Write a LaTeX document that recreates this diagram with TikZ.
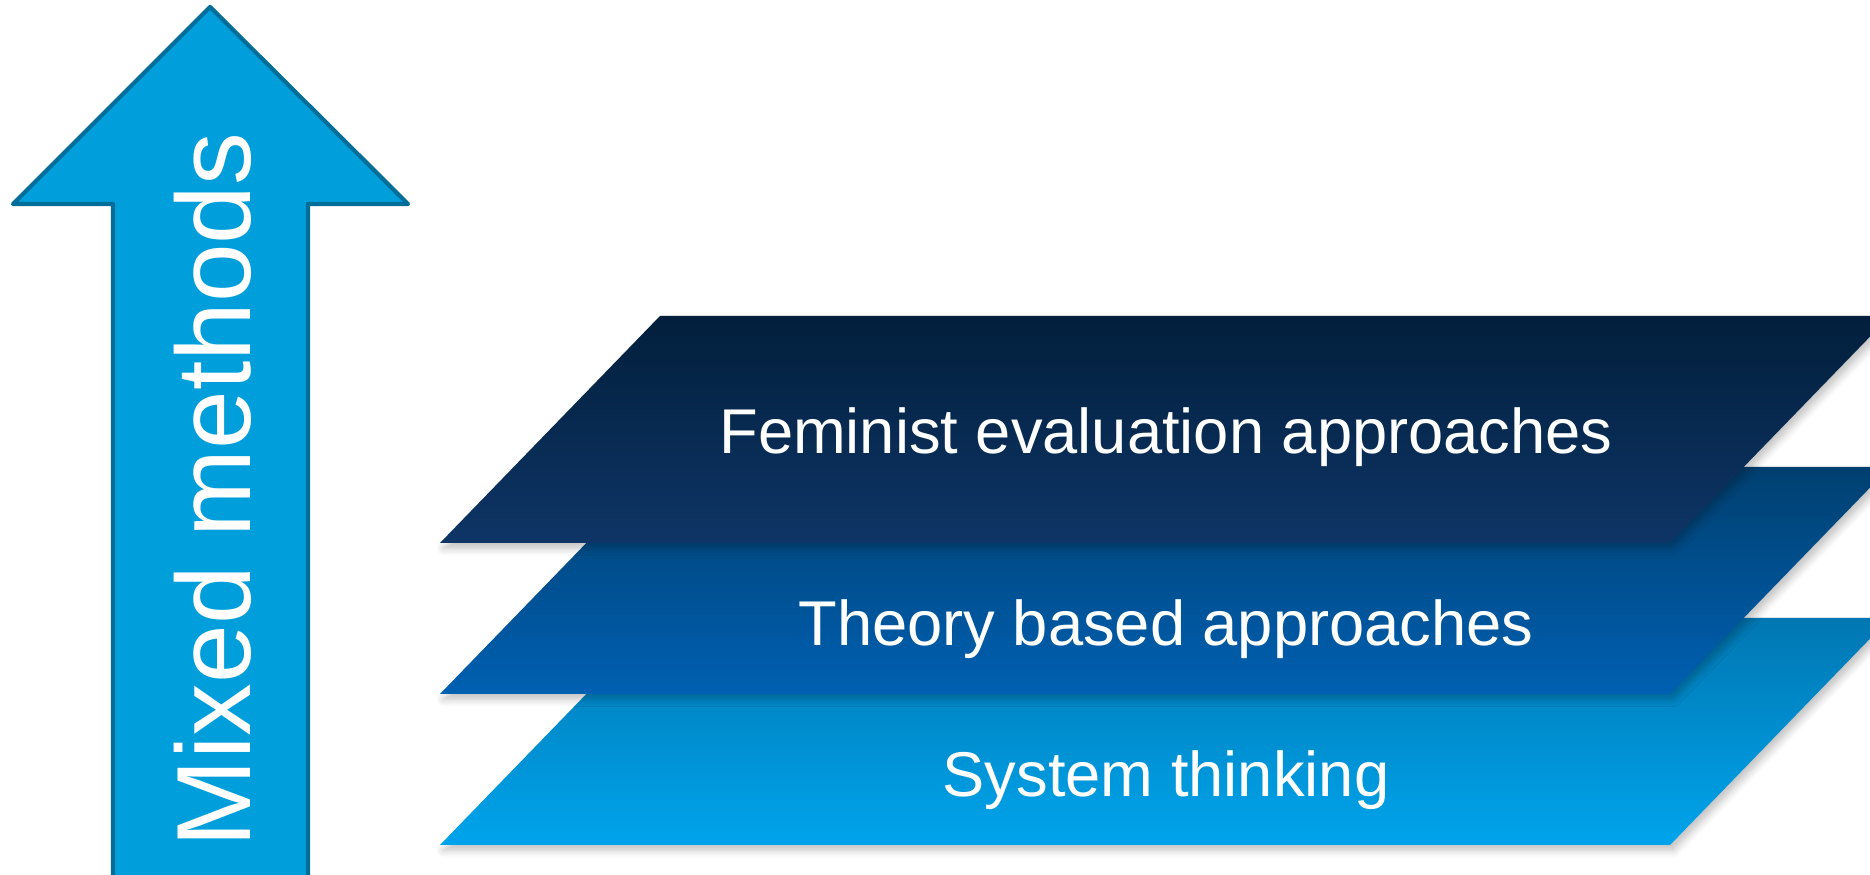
\documentclass[tikz,border=0pt]{standalone}
\usepackage{fontspec}
\setmainfont{Liberation Sans}
\usepackage{tikz}
\usetikzlibrary{shadows.blur}
\usepackage{xcolor}
\definecolor{arrowblue}{RGB}{0, 159, 219}
\definecolor{arrowedge}{RGB}{0, 110, 153}
\definecolor{navytop}{RGB}{2, 31, 60}
\definecolor{navybottom}{RGB}{14, 53, 102}
\definecolor{midtop}{RGB}{0, 64, 112}
\definecolor{midbottom}{RGB}{0, 96, 178}
\definecolor{lighttop}{RGB}{0, 119, 178}
\definecolor{lightbottom}{RGB}{0, 164, 236}

\tikzset{
	layer/.style={blur shadow={shadow xshift=1pt, shadow yshift=-1.5pt, shadow blur steps=6, shadow opacity=25}},
	layertext/.style={text=white, font=\fontsize{18}{22}\selectfont, anchor=base}
}

\begin{document}
\begin{tikzpicture}[line cap=round, line join=round]
	\clip (0,0) rectangle (18.7,8.75);

	% arrow on the left
	\draw[arrowedge, line width=1.2pt, fill=arrowblue] (2.10,8.68) -- (4.08,6.71) -- (3.08,6.71) -- (3.08,-0.2) -- (1.13,-0.2) -- (1.13,6.71) -- (0.13,6.71) -- cycle;
	\node[rotate=90, anchor=base, text=white, font=\fontsize{30}{36}\selectfont] (mixed) at (2.50,3.85) {Mixed methods};

	% stacked layers, bottom one first
	\path[layer, top color=lighttop, bottom color=lightbottom] (4.40,0.30)--(16.70,0.30)--(18.90,2.57)--(6.60,2.57)--cycle;
	\path[layer, top color=midtop, bottom color=midbottom] (4.40,1.81)--(16.70,1.81)--(18.90,4.08)--(6.60,4.08)--cycle;
	\path[layer, top color=navytop, bottom color=navybottom] (4.40,3.32)--(16.70,3.32)--(18.90,5.59)--(6.60,5.59)--cycle;

	% labels of the layers
	\node[layertext] (feminist) at (11.66,4.21) {Feminist evaluation approaches};
	\node[layertext] (theory) at (11.66,2.29) {Theory based approaches};
	\node[layertext] (system) at (11.66,0.78) {System thinking};

\end{tikzpicture}
\end{document}
